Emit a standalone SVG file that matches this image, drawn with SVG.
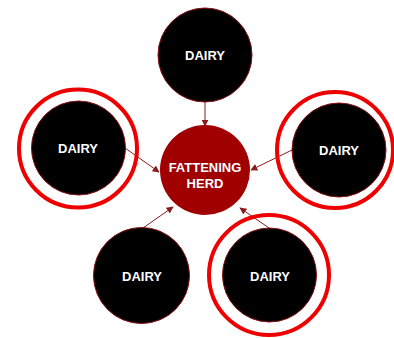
<svg xmlns="http://www.w3.org/2000/svg" width="394" height="338" viewBox="0 0 394 338">
<style>
.dairy{fill:#000;stroke:#8b1010;stroke-width:1}
.ring{fill:none;stroke:#ee0000;stroke-width:4}
.lbl{font-family:"Liberation Sans",Arial,sans-serif;font-weight:bold;font-size:13px;fill:#fff;text-anchor:middle}
.conn{stroke:#8b1a1a;stroke-width:1;fill:none;marker-end:url(#ah)}
</style>
<defs>
<marker id="ah" viewBox="0 0 10 10" refX="9" refY="5" markerWidth="7" markerHeight="7" markerUnits="userSpaceOnUse" orient="auto">
<path d="M0,0 L10,5 L0,10 z" fill="#8b1a1a"/>
</marker>
</defs>
<rect width="394" height="338" fill="#fff"/>
<g id="connectors">
<line class="conn" x1="205" y1="102" x2="205" y2="126"/>
<line class="conn" x1="125" y1="148" x2="159" y2="172"/>
<line class="conn" x1="292" y1="150" x2="251" y2="170"/>
<line class="conn" x1="143" y1="228" x2="173" y2="207"/>
<line class="conn" x1="272" y1="230" x2="240" y2="208"/>
</g>
<g id="center">
<circle cx="205" cy="170" r="45" fill="#a00000"/>
<text class="lbl" x="205" y="172">FATTENING</text>
<text class="lbl" x="205" y="188">HERD</text>
</g>
<g id="dairy-top">
<circle class="dairy" cx="205" cy="55" r="47"/>
<text class="lbl" x="205" y="60">DAIRY</text>
</g>
<g id="dairy-left">
<circle class="ring" cx="78" cy="148.5" r="59"/>
<circle class="dairy" cx="78.5" cy="148" r="47"/>
<text class="lbl" x="78" y="153">DAIRY</text>
</g>
<g id="dairy-right">
<circle class="ring" cx="335" cy="150" r="58"/>
<circle class="dairy" cx="339" cy="150" r="47"/>
<text class="lbl" x="339" y="155">DAIRY</text>
</g>
<g id="dairy-bottom-left">
<circle class="dairy" cx="141.5" cy="275.5" r="48"/>
<text class="lbl" x="142" y="281">DAIRY</text>
</g>
<g id="dairy-bottom-right">
<circle class="ring" cx="269" cy="275" r="60"/>
<circle class="dairy" cx="269.5" cy="275" r="47"/>
<text class="lbl" x="270" y="281">DAIRY</text>
</g>
</svg>
